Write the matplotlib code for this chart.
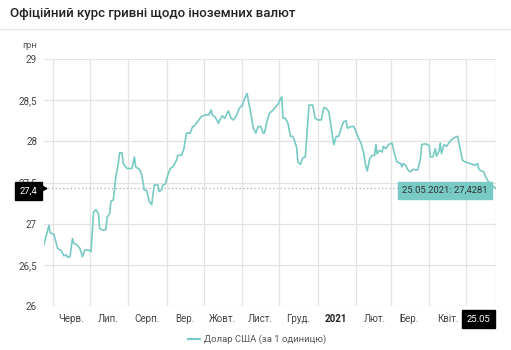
import numpy as np
import matplotlib
matplotlib.use('Agg')
import matplotlib.pyplot as plt
import matplotlib.dates as mdates

plt.rcParams['font.family'] = ['Roboto', 'DejaVu Sans']

# days since 25.05.2020 and USD rate (UAH)
start = np.datetime64('2020-05-25')
days = [0, 4, 5, 8, 11, 14, 16, 18, 19, 21, 23, 24, 26, 29, 31, 33, 36, 38, 40, 42,
        44, 45, 48, 50, 51, 53, 54, 56, 58, 60, 61, 63, 64, 67, 71, 73, 74, 77, 79, 81,
        83, 85, 87, 89, 92, 93, 95, 96, 98, 100, 102, 104, 107, 108, 111, 113, 115, 118, 120, 121,
        123, 125, 127, 130, 133, 135, 136, 138, 141, 142, 144, 146, 149, 151, 153, 155, 158, 160, 162, 164,
        165, 167, 169, 171, 173, 175, 177, 178, 180, 182, 185, 187, 189, 191, 192, 193, 195, 197, 199, 201,
        204, 205, 207, 209, 211, 213, 214, 217, 219, 221, 224, 226, 228, 230, 232, 233, 234, 236, 238, 240,
        242, 244, 245, 248, 250, 252, 254, 256, 258, 260, 261, 263, 265, 267, 268, 269, 271, 273, 274, 276,
        278, 281, 283, 285, 288, 289, 290, 292, 294, 296, 298, 301, 302, 304, 305, 308, 311, 312, 314, 316,
        317, 319, 320, 321, 323, 325, 327, 329, 332, 334, 336, 338, 340, 344, 348, 350, 351, 352, 355, 356,
        358, 361, 365]
rate = [26.75, 26.98, 26.89, 26.87, 26.70, 26.67, 26.61, 26.62, 26.59, 26.60, 26.82, 26.76, 26.75, 26.70, 26.60, 26.68, 26.68, 26.66, 27.14, 27.17,
        27.12, 26.94, 26.92, 26.93, 27.08, 27.12, 27.27, 27.29, 27.57, 27.73, 27.86, 27.86, 27.73, 27.67, 27.67, 27.81, 27.69, 27.66, 27.59, 27.41,
        27.40, 27.27, 27.23, 27.47, 27.47, 27.39, 27.41, 27.47, 27.48, 27.59, 27.67, 27.69, 27.77, 27.83, 27.83, 27.91, 28.10, 28.10, 28.18, 28.18,
        28.22, 28.26, 28.30, 28.32, 28.32, 28.38, 28.32, 28.30, 28.22, 28.26, 28.31, 28.28, 28.37, 28.28, 28.26, 28.30, 28.41, 28.43, 28.52, 28.58,
        28.50, 28.34, 28.16, 28.10, 28.18, 28.18, 28.10, 28.10, 28.24, 28.34, 28.38, 28.42, 28.45, 28.52, 28.54, 28.28, 28.28, 28.22, 28.06, 28.06,
        27.93, 27.75, 27.72, 27.80, 27.81, 28.24, 28.44, 28.44, 28.28, 28.26, 28.26, 28.41, 28.40, 28.36, 28.16, 28.06, 27.96, 28.06, 28.06, 28.16,
        28.24, 28.25, 28.16, 28.18, 28.18, 28.12, 28.04, 27.98, 27.87, 27.69, 27.64, 27.79, 27.83, 27.83, 27.96, 27.85, 27.89, 27.87, 27.94, 27.91,
        27.96, 27.98, 27.85, 27.75, 27.73, 27.69, 27.73, 27.71, 27.65, 27.63, 27.66, 27.65, 27.66, 27.79, 27.96, 27.97, 27.95, 27.81, 27.81, 27.91,
        27.82, 27.88, 27.98, 27.85, 27.96, 27.94, 27.98, 28.02, 28.05, 28.06, 27.91, 27.77, 27.75, 27.73, 27.71, 27.73, 27.67, 27.65, 27.63, 27.59,
        27.53, 27.47, 27.4281]
month_labels = ['Черв.', 'Лип.', 'Серп.', 'Вер.', 'Жовт.', 'Лист.', 'Груд.', '2021', 'Лют.', 'Бер.', 'Квіт.']
yticks = [26, 26.5, 27, 27.5, 28, 28.5, 29]
last_value = 27.4281

teal = '#78cac4'
grid = '#e3e3e3'

dates = start + np.array(days).astype('timedelta64[D]')
end = dates[-1]

fig = plt.figure(figsize=(5.11, 3.5), dpi=100)
ax = fig.add_axes([44 / 511, 1 - 306 / 350, 452 / 511, 247 / 350])

ax.plot(dates.astype('datetime64[ms]').astype(object), rate, color=teal, lw=1.2, zorder=3)

ax.set_xlim(start.astype(object), end.astype(object))
ax.set_ylim(26, 29)
ax.set_yticks(yticks)
ax.set_yticklabels([('%g' % v).replace('.', ',') for v in yticks])

# month gridlines, labels in the middle of each month
ax.xaxis.set_major_locator(mdates.MonthLocator())
ax.xaxis.set_major_formatter(plt.NullFormatter())
ax.xaxis.set_minor_locator(mdates.MonthLocator(bymonthday=16))
ax.xaxis.set_minor_formatter(plt.FixedFormatter(month_labels))
ax.tick_params(which='both', length=0, colors='#444444', labelsize=7)
ax.tick_params(axis='x', which='minor', pad=6)
ax.tick_params(axis='y', pad=5)
fig.canvas.draw()
for t in ax.xaxis.get_minorticklabels():
    if t.get_text() == '2021':
        t.set_fontweight('bold')
        t.set_color('#222222')

ax.grid(True, which='major', color=grid, lw=0.9)
for s in ax.spines.values():
    s.set_visible(False)

# crosshair at the last day
ax.axhline(last_value, color='#aaaaaa', lw=0.9, ls=(0, (1, 2)), zorder=2)
ax.axvline(end.astype(object), color='#aaaaaa', lw=0.9, ls=(0, (1, 2)), zorder=2)

ax.annotate('27,4', xy=(0, last_value), xycoords=('axes fraction', 'data'),
            xytext=(-4.5, -2), textcoords='offset points', ha='right', va='center',
            color='white', fontsize=6.8, zorder=6, annotation_clip=False,
            bbox=dict(boxstyle='square,pad=0.5', fc='black', ec='black'))
ax.plot([0], [last_value], marker='>', ms=3.5, color='black', transform=ax.get_yaxis_transform(),
        clip_on=False, zorder=6)
ax.annotate('25.05.2021: 27,4281', xy=(end.astype(object), last_value),
            xytext=(-6, -1.5), textcoords='offset points', ha='right', va='center',
            color='#333333', fontsize=6.8, zorder=6, annotation_clip=False,
            bbox=dict(boxstyle='square,pad=0.45', fc=teal, ec=teal))
ax.annotate('25.05', xy=(end.astype(object), 26), xycoords='data',
            xytext=(-4, -9.5), textcoords='offset points', ha='right', va='center',
            color='white', fontsize=6.8, zorder=6, annotation_clip=False,
            bbox=dict(boxstyle='square,pad=0.5', fc='black', ec='black'))

# header
fig.text(10 / 511, 1 - 14 / 350, 'Офіційний курс гривні щодо іноземних валют',
         fontsize=9.5, fontweight='medium', color='#222222', va='center')
fig.add_artist(plt.Line2D([0, 1], [1 - 29 / 350] * 2, color='#e6e6e6', lw=1))
fig.text(22 / 511, 1 - 46 / 350, 'грн', fontsize=6.8, color='#555555', va='center')

# legend
fig.add_artist(plt.Line2D([188 / 511, 200 / 511], [1 - 339 / 350] * 2, color=teal, lw=1.5))
fig.text(204 / 511, 1 - 339 / 350, 'Долар США (за 1 одиницю)', fontsize=6.8,
         color='#555555', va='center')

fig.savefig('out.png', dpi=100)
